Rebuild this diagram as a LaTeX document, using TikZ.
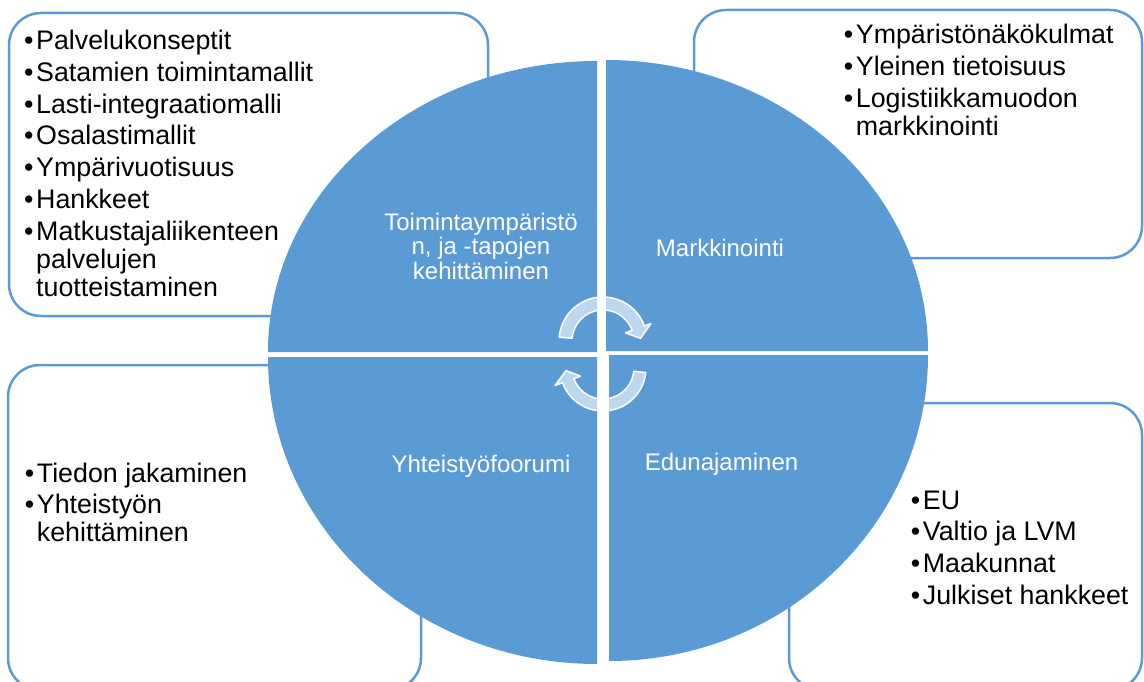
\documentclass[tikz,border=0pt]{standalone}
\usepackage{fontspec}
\setmainfont{Liberation Sans}
\usetikzlibrary{calc}

\definecolor{pieblue}{RGB}{91,155,213}
\newcommand{\bul}{\makebox[12pt][l]{•}}
\newcommand{\nob}{\hspace*{12pt}}

\tikzset{
  listbox/.style={draw=pieblue, line width=2.5pt, rounded corners=32pt, fill=white},
  quarter/.style={fill=pieblue},
  quartertext/.style={text=white, align=center, inner sep=0pt,
    font=\fontsize{24pt}{24.5pt}\selectfont},
  listline/.style={anchor=base west, inner sep=0pt,
    font=\fontsize{26.8pt}{27.7pt}\selectfont},
  cyclearrow/.style={fill=white, fill opacity=0.6, draw=white, line width=1.5pt, line join=round},
}

\begin{document}
\begin{tikzpicture}[x=1pt,y=-1pt]
    \clip (0,0) rectangle (1144,682);
    % boxes behind the pie
    \draw[listbox] (9,13) rectangle (488,316);
    \draw[listbox] (694,10) rectangle (1142,258);
    \draw[listbox] (8,365) rectangle (421,690);
    \draw[listbox] (789,403) rectangle (1142,690);
    % pie quarters
    \fill[quarter] (597,352) -- (268,352) arc[start angle=180, end angle=270, x radius=329, y radius=291] -- cycle;
    \fill[quarter] (606,351) -- (606,60) arc[start angle=270, end angle=360, x radius=322, y radius=291] -- cycle;
    \fill[quarter] (609,355) -- (928,355) arc[start angle=0, end angle=90, x radius=319, y radius=306] -- cycle;
    \fill[quarter] (597,357) -- (597,664) arc[start angle=90, end angle=180, x radius=329, y radius=307] -- cycle;
    % the two cycle arrows
    \coordinate (topc) at (603,341);
    \coordinate (botc) at (603,368);
    \filldraw[cyclearrow] ($(topc)+(-175:44)$) arc[start angle=-175, end angle=-20, radius=44]
        -- ($(topc)+(-20:51)$) -- ($(topc)+(-4:37.5)$) -- ($(topc)+(-20:24)$)
        -- ($(topc)+(-20:31)$) arc[start angle=-20, end angle=-175, radius=31] -- cycle;
    \filldraw[cyclearrow] ($(botc)+(6:43)$) arc[start angle=6, end angle=160, radius=43]
        -- ($(botc)+(160:51)$) -- ($(botc)+(176:37)$) -- ($(botc)+(160:24)$)
        -- ($(botc)+(160:31)$) arc[start angle=160, end angle=6, radius=31] -- cycle;
    % quarter labels
    \node[quartertext] (qtl) at (481,246) {Toimintaympäristö\\n, ja -tapojen\\kehittäminen};
    \node[quartertext, anchor=base] (qtr) at (720,256) {Markkinointi};
    \node[quartertext, anchor=base] (qbl) at (481,472) {Yhteistyöfoorumi};
    \node[quartertext, anchor=base] (qbr) at (721.5,470) {Edunajaminen};
    % bullet lists
    \foreach \yy/\txt [count=\i] in {49.3/\bul Palvelukonseptit, 81.2/\bul Satamien toimintamallit,
        113.1/\bul Lasti-integraatiomalli, 145/\bul Osalastimallit, 176.9/\bul Ympärivuotisuus,
        208.8/\bul Hankkeet, 240.7/\bul Matkustajaliikenteen, 268.4/\nob palvelujen,
        296.1/\nob tuotteistaminen}
        \node[listline] (tl\i) at (24,\yy) {\txt};
    \foreach \yy/\txt [count=\i] in {44/\bul Ympäristönäkökulmat, 76/\bul Yleinen tietoisuus,
        108/\bul Logistiikkamuodon, 135.7/\nob markkinointi}
        \node[listline] (tr\i) at (843.7,\yy) {\txt};
    \foreach \yy/\txt [count=\i] in {509/\bul EU, 540.9/\bul Valtio ja LVM,
        572.8/\bul Maakunnat, 604.7/\bul Julkiset hankkeet}
        \node[listline] (br\i) at (910.7,\yy) {\txt};
    \foreach \yy/\txt [count=\i] in {482/\bul Tiedon jakaminen, 513.9/\bul Yhteistyön,
        541.6/\nob kehittäminen}
        \node[listline] (bl\i) at (24.7,\yy) {\txt};
\end{tikzpicture}
\end{document}
